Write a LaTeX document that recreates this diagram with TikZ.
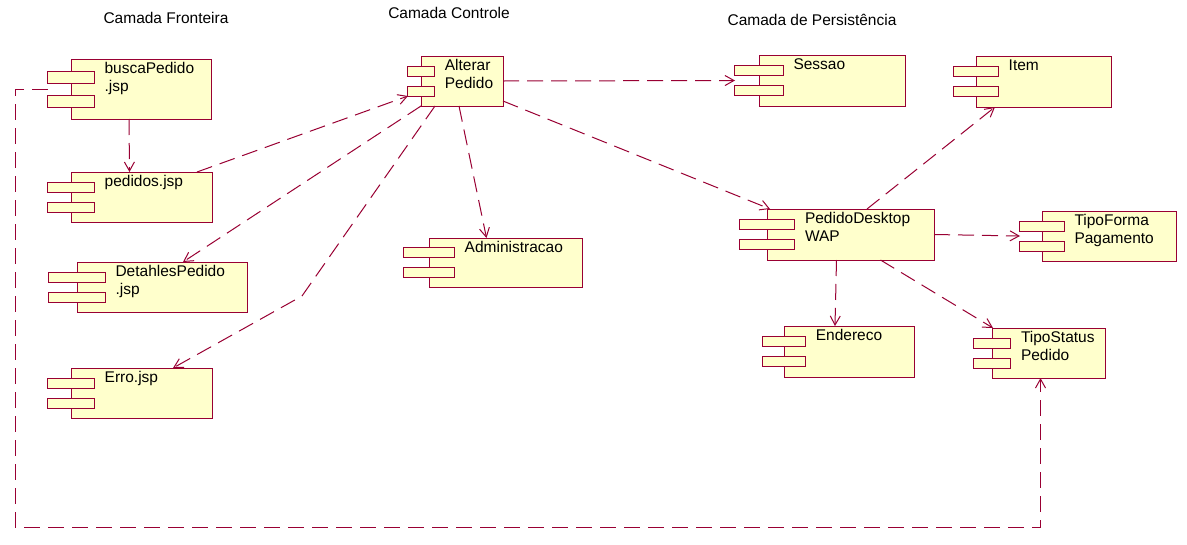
\documentclass[tikz,border=0pt]{standalone}
\usepackage{fontspec}
\setmainfont{Liberation Sans}
\usetikzlibrary{arrows.meta}

\definecolor{roseline}{RGB}{153,0,51}
\definecolor{rosefill}{RGB}{255,255,204}

% component: name, left, top, width, height, text
\newcommand{\umlcomp}[6]{%
  \node[comp, minimum width=#4pt, minimum height=#5pt] (#1) at (#2+#4/2, #3+#5/2) {};
  \draw[tab] (#2-#4/6, #3+#5/5) rectangle (#2+#4/6, #3+2*#5/5);
  \draw[tab] (#2-#4/6, #3+3*#5/5) rectangle (#2+#4/6, #3+4*#5/5);
  \node[cname] (#1-name) at (#2+#4/6+10, #3+3.5) {#6};
}

\begin{document}
\begin{tikzpicture}[
x=1pt, y=-1pt,
font=\fontsize{15.5}{17.5}\selectfont,
comp/.style={draw=roseline, fill=rosefill, line width=1pt, inner sep=0pt, outer sep=0pt},
tab/.style={draw=roseline, fill=rosefill, line width=1pt},
cname/.style={anchor=north west, align=left, inner sep=0pt},
layer/.style={inner sep=0pt},
dep/.style={draw=roseline, line width=1pt, dash pattern=on 16pt off 8pt, -{Straight Barb[length=9pt, width=10pt]}}
]
\fill[white] (0,0) rectangle (1187,544);
\useasboundingbox (0,0) rectangle (1187,544);

\node[layer] (fronteira) at (166,18) {Camada Fronteira};
\node[layer] (controle) at (449,13) {Camada Controle};
\node[layer] (persistencia) at (812,20) {Camada de Persistência};

\umlcomp{busca}{71}{59}{140}{60}{buscaPedido\\.jsp}
\umlcomp{pedidos}{71}{172}{141}{50}{pedidos.jsp}
\umlcomp{detalhes}{77}{262}{170}{50}{DetahlesPedido\\.jsp}
\umlcomp{erro}{71}{368}{141}{50}{Erro.jsp}
\umlcomp{alterar}{421}{56}{82}{50}{Alterar\\Pedido}
\umlcomp{admin}{429}{238}{153}{49}{Administracao}
\umlcomp{sessao}{759}{55}{146}{51}{Sessao}
\umlcomp{item}{976}{56}{135}{51}{Item}
\umlcomp{wap}{767}{209}{167}{51}{PedidoDesktop\\WAP}
\umlcomp{forma}{1042}{211}{134}{50}{TipoForma\\Pagamento}
\umlcomp{endereco}{784}{326}{130}{51}{Endereco}
\umlcomp{status}{992}{328}{113}{50}{TipoStatus\\Pedido}

\coordinate (dobra) at (302,296);
\coordinate (volta) at (15,527);

\draw[dep] ([xshift=-12pt]busca.south) -- ([xshift=-12pt]pedidos.north);
\draw[dep] ([xshift=-15pt]pedidos.north east) -- ([shift={(-13pt,10pt)}]alterar.south west);
\draw[dep] (alterar.south west) -- ([xshift=-64pt]detalhes.north east);
\draw[dep] ([xshift=14pt]alterar.south west) -- (dobra) -- ([xshift=-39pt]erro.north east);
\draw[dep] ([xshift=-3pt]alterar.south) -- ([xshift=-19pt]admin.north);
\draw[dep] (alterar.east) -- ([xshift=-24pt]sessao.west);
\draw[dep] ([yshift=-20pt]alterar.east) -- ([xshift=3pt]wap.north west);
\draw[dep] ([xshift=100pt]wap.north west) -- ([xshift=19pt]item.south west);
\draw[dep] (wap.east) -- ([xshift=-22pt]forma.west);
\draw[dep] ([xshift=-14pt]wap.south) -- ([xshift=-14pt]endereco.north);
\draw[dep] ([xshift=30pt]wap.south) -- ([xshift=1pt]status.north west);
\draw[dep] ([xshift=-23pt]busca.west) -| (volta) -| ([xshift=-8pt]status.south);
\end{tikzpicture}
\end{document}
